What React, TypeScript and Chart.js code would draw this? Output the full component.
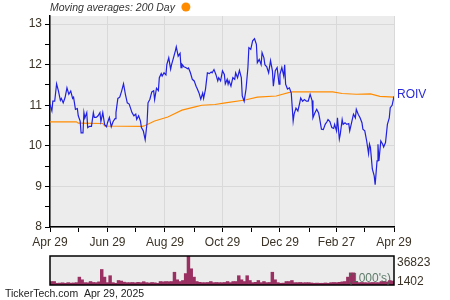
import React, { useEffect, useRef } from 'react';
import { Chart, registerables } from 'chart.js';

Chart.register(...registerables);

const FONT = '"Liberation Sans", Arial, Helvetica, sans-serif';

// Days since Apr 29, 2024 and ROIV closing prices
const priceDays = [
  0, 2, 3, 5, 7, 9, 11, 12, 14, 16,
  18, 20, 22, 24, 25, 27, 29, 30, 32, 33,
  35, 36, 37, 39, 40, 42, 44, 46, 47, 49,
  51, 53, 54, 56, 58, 60, 61, 63, 65, 67,
  69, 70, 72, 74, 76, 78, 80, 82, 84, 85,
  87, 89, 91, 92, 94, 96, 97, 99, 101, 103,
  104, 106, 108, 110, 111, 113, 115, 116, 118, 119,
  121, 123, 124, 126, 128, 129, 131, 133, 134, 136,
  138, 139, 140, 142, 144, 146, 147, 149, 151, 153,
  155, 156, 158, 160, 162, 163, 165, 167, 169, 171,
  172, 174, 176, 178, 179, 181, 183, 185, 186, 188,
  189, 190, 192, 194, 196, 197, 199, 201, 203, 204,
  206, 208, 210, 211, 213, 215, 217, 219, 220, 222,
  224, 225, 227, 228, 230, 232, 234, 236, 237, 239,
  241, 243, 244, 246, 248, 249, 250, 252, 254, 256,
  258, 259, 261, 263, 265, 266, 268, 270, 271, 272,
  274, 276, 278, 279, 281, 283, 285, 286, 288, 290,
  292, 294, 295, 297, 299, 301, 302, 304, 305, 307,
  308, 310, 311, 313, 315, 317, 318, 320, 322, 324,
  325, 327, 329, 331, 332, 334, 336, 338, 339, 340,
  342, 344, 345, 347, 348, 349, 351, 353, 354, 356,
  358, 360, 361, 363, 365,
];
const priceValues = [
  11.02, 10.86, 11.1, 11.1, 11.53, 11.35, 11.12, 11.17, 11.06, 11.19,
  11.43, 11.27, 11.35, 11.17, 11.2, 10.9, 10.92, 10.74, 10.61, 10.32,
  10.32, 10.82, 10.69, 10.82, 10.45, 10.48, 10.48, 10.82, 10.7, 10.7,
  10.74, 10.82, 10.6, 10.82, 10.52, 10.47, 10.57, 10.7, 10.47, 10.6,
  10.67, 10.82, 11.17, 11.2, 11.35, 11.53, 11.27, 11.06, 11.03, 10.96,
  10.82, 10.74, 10.78, 10.65, 10.74, 10.61, 10.45, 10.37, 10.15, 10.57,
  11.06, 11.15, 11.33, 11.36, 11.14, 11.42, 11.36, 11.68, 11.78, 11.72,
  11.8, 11.75, 12.01, 12.17, 11.89, 12.0, 12.17, 12.34, 12.44, 12.21,
  12.28, 11.93, 12.01, 11.95, 11.93, 11.9, 11.92, 11.8, 11.64, 11.6,
  11.47, 11.42, 11.31, 11.15, 11.3, 11.17, 11.4, 11.8, 11.78, 11.82,
  11.8, 11.88, 11.76, 11.6, 11.68, 11.6, 11.85, 11.76, 11.53, 11.64,
  11.52, 11.6, 11.47, 11.68, 11.64, 11.8, 11.68, 11.86, 11.68, 11.23,
  11.1, 11.4, 11.93, 12.42, 12.38, 12.59, 12.64, 12.5, 12.05, 12.13,
  12.0, 12.3, 12.17, 12.0, 11.95, 11.8, 12.1, 11.85, 11.47, 11.85,
  11.93, 11.52, 11.76, 11.93, 11.72, 12.0, 11.52, 11.4, 11.43, 11.3,
  10.61, 10.78, 10.93, 10.86, 11.06, 11.18, 11.1, 11.14, 11.12, 11.1,
  11.1, 11.27, 11.12, 10.69, 10.81, 10.9, 10.81, 10.69, 10.41, 10.4,
  10.53, 10.6, 10.65, 10.6, 10.45, 10.43, 10.53, 10.37, 10.69, 10.17,
  10.29, 10.65, 10.53, 10.57, 10.53, 10.55, 10.37, 10.57, 10.78, 10.69,
  10.9, 10.78, 10.69, 10.57, 10.41, 10.37, 10.12, 9.81, 10.04, 9.96,
  9.43, 9.26, 9.04, 9.63, 10.04, 9.63, 10.12, 10.04, 9.97, 10.08,
  10.53, 10.69, 10.94, 11.0, 11.22,
];

// 200 day moving average
const maDays = [0, 28, 30, 56, 58, 98, 101, 111, 125, 140, 154, 161, 175, 186, 207, 220, 240, 256, 300, 310, 325, 340, 350, 365];
const maValues = [10.59, 10.59, 10.56, 10.55, 10.49, 10.48, 10.5, 10.61, 10.71, 10.88, 10.96, 11.0, 11.02, 11.06, 11.13, 11.2, 11.23, 11.33, 11.33, 11.29, 11.27, 11.28, 11.22, 11.2];

// Volume (1000's), one bar per 3 days
const volumeK = [
  4.4, 4.4, 2.2, 2.4, 2.8, 2.2, 3.0, 2.4, 2.6, 3.0,
  10.0, 6.6, 3.0, 2.8, 4.4, 3.2, 3.0, 4.0, 19.7, 10.0,
  3.0, 11.8, 3.0, 2.2, 5.7, 5.0, 3.6, 3.0, 3.0, 3.2,
  2.8, 3.4, 3.0, 4.2, 3.0, 2.6, 3.2, 2.8, 2.2, 4.4,
  4.0, 4.4, 4.2, 4.4, 16.2, 6.6, 4.4, 5.7, 14.5, 36.823,
  20.6, 10.0, 4.4, 3.4, 3.0, 3.0, 3.2, 4.4, 3.0, 3.2,
  3.0, 3.0, 3.2, 4.4, 3.0, 4.4, 4.4, 11.8, 6.6, 4.4,
  11.8, 5.7, 3.0, 3.4, 5.7, 3.0, 4.4, 3.0, 3.2, 16.2,
  6.6, 3.0, 2.2, 2.4, 4.4, 4.4, 5.7, 3.0, 3.0, 3.2,
  2.8, 3.0, 3.0, 2.6, 2.2, 2.4, 2.2, 2.2, 2.6, 2.2,
  3.0, 3.2, 3.0, 3.4, 4.0, 4.4, 10.0, 15.4, 15.4, 4.4,
  3.0, 3.2, 3.0, 2.8, 3.0, 3.2, 3.0, 3.0, 4.4, 4.4,
  4.0, 5.7, 5.0,
];
const volumeDays = volumeK.map((_, i) => i * 3);
const volMaxLabel = '36823';
const volMinLabel = '1402';
const volUnitLabel = "(1000's)";

const xTickDays = [0, 30, 61, 91, 122, 153, 183, 214, 244, 275, 304, 334, 365];
const xTickLabels = ['Apr 29', '', 'Jun 29', '', 'Aug 29', '', 'Oct 29', '', 'Dec 29', '', 'Feb 27', '', 'Apr 29'];
const yTickValues = [8, 8.5, 9, 9.5, 10, 10.5, 11, 11.5, 12, 12.5, 13];

const titleText = 'Moving averages: 200 Day';
const tickerName = 'ROIV';
const footerText = 'TickerTech.com  Apr 29, 2025';

const GRID = '#d9d9d9';
const TEXT = '#3a3226';
const BG = '#ececec';

const bgPlugin = {
  id: 'bgArea',
  beforeDraw(chart: any) {
    const { ctx, chartArea: a } = chart;
    ctx.save();
    ctx.fillStyle = BG;
    ctx.fillRect(a.left, a.top, a.right - a.left, a.bottom - a.top);
    ctx.restore();
  },
};

export default function App() {
  const mainRef = useRef<HTMLCanvasElement>(null);
  const volRef = useRef<HTMLCanvasElement>(null);

  useEffect(() => {
    const overlay = {
      id: 'overlay',
      afterDraw(chart: any) {
        const { ctx, chartArea: a, scales } = chart;
        ctx.save();
        ctx.font = `italic 10.5px ${FONT}`;
        ctx.fillStyle = '#333';
        ctx.textBaseline = 'middle';
        ctx.textAlign = 'left';
        ctx.fillText(titleText, a.left, 8);
        const w = ctx.measureText(titleText).width;
        ctx.beginPath();
        ctx.arc(a.left + w + 11, 7, 4.5, 0, Math.PI * 2);
        ctx.fillStyle = '#ff8c00';
        ctx.fill();
        const last = priceValues[priceValues.length - 1];
        ctx.font = `12px ${FONT}`;
        ctx.fillStyle = '#2a2ad8';
        ctx.fillText(tickerName, a.right + 3, scales.y.getPixelForValue(last) - 2);
        ctx.restore();
      },
    };

    const main = new Chart(mainRef.current as HTMLCanvasElement, {
      type: 'line',
      data: {
        datasets: [
          {
            data: priceDays.map((d, i) => ({ x: d, y: priceValues[i] })),
            borderColor: '#2020e0',
            borderWidth: 1.2,
            pointRadius: 0,
            tension: 0,
          },
          {
            data: maDays.map((d, i) => ({ x: d, y: maValues[i] })),
            borderColor: '#ff8c00',
            borderWidth: 1.1,
            pointRadius: 0,
            tension: 0,
          },
        ],
      },
      options: {
        responsive: false,
        animation: false,
        devicePixelRatio: 1,
        layout: { padding: { left: 0, right: 56, top: 16, bottom: 0 } },
        plugins: { legend: { display: false }, tooltip: { enabled: false } },
        scales: {
          x: {
            type: 'linear',
            min: 0,
            max: 365,
            afterBuildTicks: (s: any) => {
              s.ticks = xTickDays.map((v) => ({ value: v }));
            },
            afterFit: (s: any) => {
              s.height = 23;
            },
            ticks: {
              autoSkip: false,
              maxRotation: 0,
              minRotation: 0,
              padding: 3,
              color: TEXT,
              font: { family: FONT, size: 12 },
              callback: (_v: any, i: number) => xTickLabels[i],
            },
            grid: {
              color: (c: any) => (xTickLabels[c.index] ? GRID : 'rgba(0,0,0,0)'),
              tickColor: '#000',
              tickLength: 5,
              lineWidth: 1,
            },
            border: { color: '#000', width: 1.5 },
          },
          y: {
            type: 'linear',
            min: 8,
            max: 13.2,
            afterBuildTicks: (s: any) => {
              s.ticks = yTickValues.map((v) => ({ value: v }));
            },
            afterFit: (s: any) => {
              s.width = 50;
            },
            ticks: {
              autoSkip: false,
              padding: 3,
              color: TEXT,
              font: { family: FONT, size: 12 },
              callback: (v: any) => (Number.isInteger(v) ? String(v) : ''),
            },
            grid: {
              color: (c: any) => (c.tick && Number.isInteger(c.tick.value) ? GRID : 'rgba(0,0,0,0)'),
              tickColor: '#000',
              tickLength: 5,
              lineWidth: 1,
            },
            border: { color: '#000', width: 1.5 },
          },
        },
      } as any,
      plugins: [bgPlugin, overlay],
    });

    const volOverlay = {
      id: 'volOverlay',
      afterDraw(chart: any) {
        const { ctx, chartArea: a } = chart;
        ctx.save();
        ctx.strokeStyle = '#000';
        ctx.lineWidth = 1.5;
        ctx.strokeRect(a.left, a.top, a.right - a.left, a.bottom - a.top);
        ctx.font = `12px ${FONT}`;
        ctx.textBaseline = 'middle';
        ctx.textAlign = 'right';
        ctx.fillStyle = 'rgba(70,105,85,0.85)';
        ctx.fillText(volUnitLabel, a.right - 3, a.bottom - 6);
        ctx.textAlign = 'left';
        ctx.fillStyle = TEXT;
        ctx.fillText(volMaxLabel, a.right + 3, a.top + 6.5);
        ctx.fillText(volMinLabel, a.right + 3, a.bottom - 3.5);
        ctx.font = `10.5px ${FONT}`;
        ctx.fillStyle = '#222';
        ctx.fillText(footerText, 5, 44);
        ctx.restore();
      },
    };

    const vol = new Chart(volRef.current as HTMLCanvasElement, {
      type: 'bar',
      data: {
        labels: volumeDays,
        datasets: [
          {
            data: volumeK,
            backgroundColor: '#9a2f62',
            borderWidth: 0,
            barPercentage: 1,
            categoryPercentage: 1,
          },
        ],
      },
      options: {
        responsive: false,
        animation: false,
        devicePixelRatio: 1,
        layout: { padding: { left: 50, right: 56, top: 6, bottom: 15 } },
        plugins: { legend: { display: false }, tooltip: { enabled: false } },
        scales: {
          x: { display: false },
          y: { display: false, min: 0, max: 36.823 },
        },
      } as any,
      plugins: [bgPlugin, volOverlay],
    });

    return () => {
      main.destroy();
      vol.destroy();
    };
  }, []);

  return (
    <div style={{ position: 'fixed', left: 0, top: 0, width: 450, height: 300, background: '#fff' }}>
      <canvas ref={mainRef} width={450} height={250} style={{ position: 'absolute', left: 0, top: 0, display: 'block' }} />
      <canvas ref={volRef} width={450} height={50} style={{ position: 'absolute', left: 0, top: 250, display: 'block' }} />
    </div>
  );
}
